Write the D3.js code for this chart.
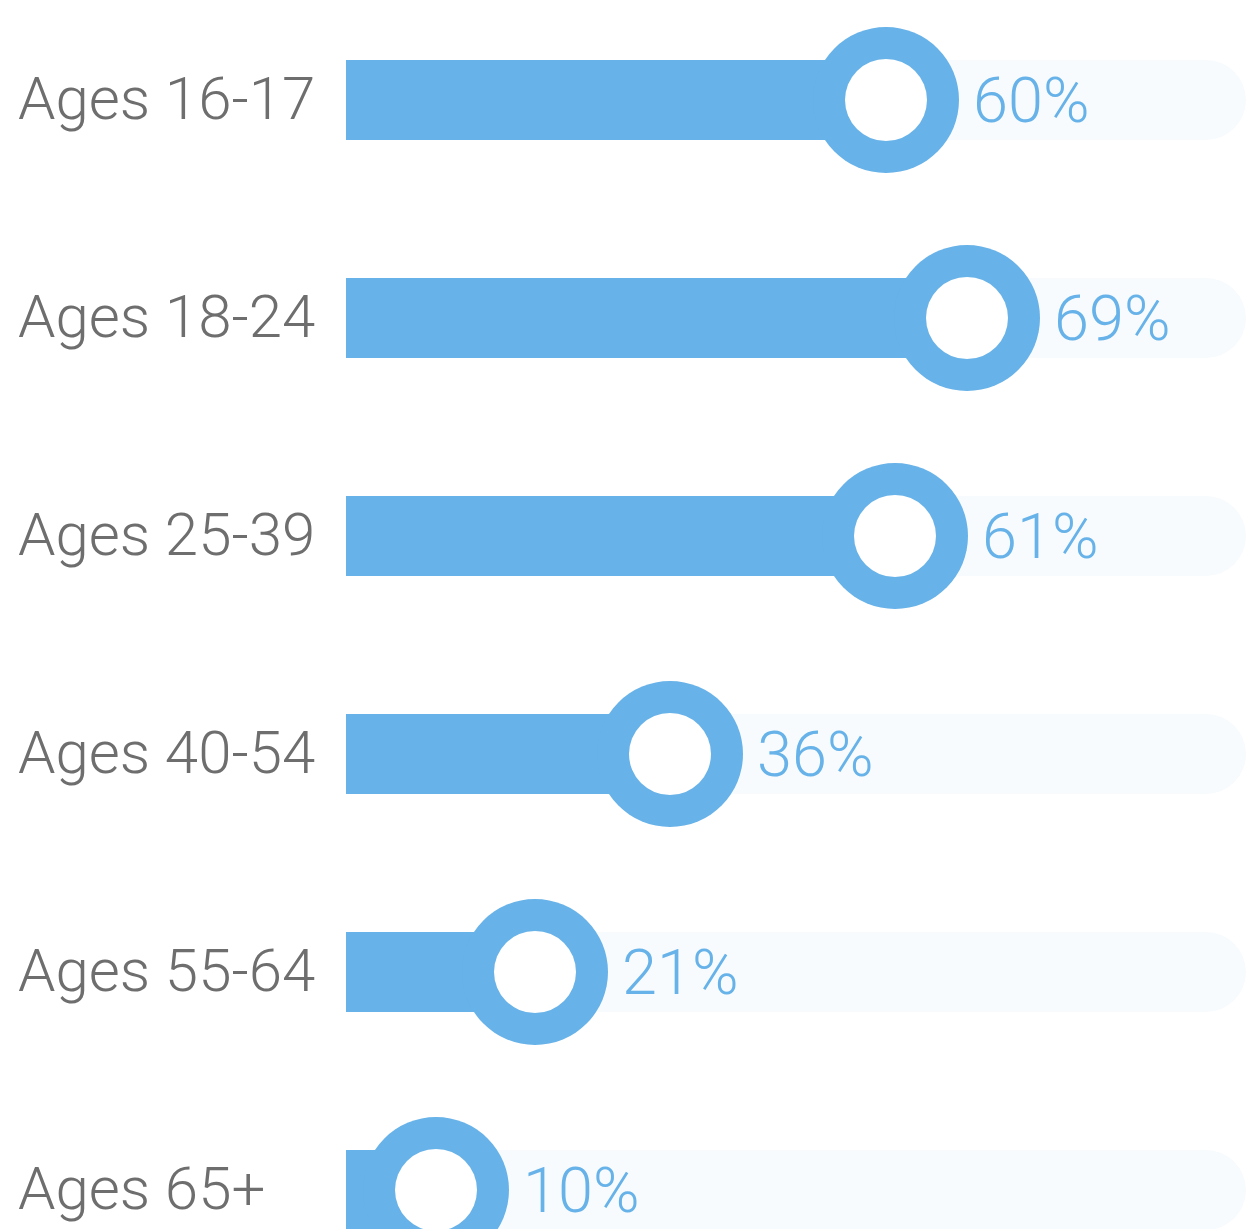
<!DOCTYPE html>
<html>
<head>
<meta charset="utf-8">
<script src="https://cdn.jsdelivr.net/npm/d3@7"></script>
<style>
  html, body { margin: 0; padding: 0; background: #fff; }
  svg { display: block; }
</style>
</head>
<body>
<div id="chart"></div>
<script>
const ageGroups = ['Ages 16-17', 'Ages 18-24', 'Ages 25-39', 'Ages 40-54', 'Ages 55-64', 'Ages 65+'];
const shares = [60, 69, 61, 36, 21, 10];

const width = 1253, height = 1229;
const barH = 80, ringR = 73, holeR = 41;
const blue = '#67b2e8';

const svg = d3.select('#chart')
    .append('svg')
    .attr('width', width)
    .attr('height', height);

const x = d3.scaleLinear().domain([0, 100]).range([346, 1246]);
const y = d3.scalePoint().domain(ageGroups).range([100, 1190]);

const rows = svg.selectAll('g.row')
    .data(ageGroups.map((name, i) => ({ name, value: shares[i] })))
    .join('g')
    .attr('class', 'row')
    .attr('transform', d => `translate(0,${y(d.name)})`);

// light track, rounded on the right end only
rows.append('path')
    .attr('fill', '#f7fbfe')
    .attr('d', () => {
        const x0 = x(0), x1 = x(100), r = barH / 2;
        return `M${x0},${-r}H${x1 - r}A${r},${r} 0 0 1 ${x1 - r},${r}H${x0}Z`;
    });

rows.append('rect')
    .attr('x', x(0))
    .attr('y', -barH / 2)
    .attr('width', d => x(d.value) - x(0))
    .attr('height', barH)
    .attr('fill', blue);

rows.append('circle')
    .attr('cx', d => x(d.value))
    .attr('r', ringR)
    .attr('fill', blue);

rows.append('circle')
    .attr('cx', d => x(d.value))
    .attr('r', holeR)
    .attr('fill', '#fff');

rows.append('text')
    .attr('x', 18)
    .attr('y', 19)
    .attr('fill', '#6e6e6e')
    .style('font-family', 'Roboto, sans-serif')
    .style('font-weight', 300)
    .style('font-size', '60px')
    .text(d => d.name);

rows.append('text')
    .attr('x', d => x(d.value) + ringR + 14)
    .attr('y', 22)
    .attr('fill', blue)
    .style('font-family', 'Roboto, sans-serif')
    .style('font-weight', 300)
    .style('font-size', '63px')
    .text(d => d.value + '%');
</script>
</body>
</html>
